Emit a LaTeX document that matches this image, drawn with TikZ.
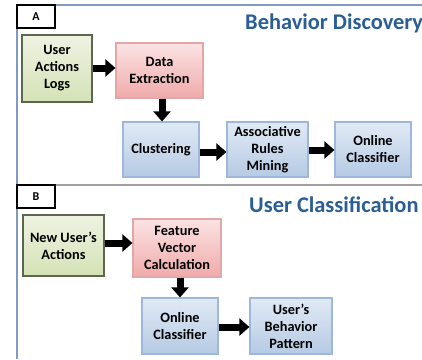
\documentclass[tikz,border=0pt]{standalone}
\usepackage{fontspec}
\setmainfont{Carlito}
\usetikzlibrary{arrows.meta,shadows}
\definecolor{grtop}{HTML}{EEF3E2}
\definecolor{grbot}{HTML}{D4E2B6}
\definecolor{grln}{HTML}{5F6650}
\definecolor{rdtop}{HTML}{FBE3E3}
\definecolor{rdbot}{HTML}{F0AAAA}
\definecolor{rdln}{HTML}{E0A8A8}
\definecolor{bltop}{HTML}{E1EAF5}
\definecolor{blbot}{HTML}{B5CAE4}
\definecolor{blln}{HTML}{9DB8DA}
\definecolor{ttl}{HTML}{2A5E94}
\definecolor{frameA}{HTML}{7F9BBF}
\definecolor{frameB}{HTML}{A0A0A0}
\tikzset{
  procbox/.style={rectangle, align=center, line width=1.2pt,
    font=\fontsize{14.3}{17}\selectfont\bfseries, inner sep=0pt,
    drop shadow={shadow xshift=1.2pt, shadow yshift=1.2pt, opacity=0.25, fill=black}},
  greenbox/.style={procbox, draw=grln, top color=grtop, bottom color=grbot},
  redbox/.style={procbox, draw=rdln, top color=rdtop, bottom color=rdbot},
  bluebox/.style={procbox, draw=blln, top color=bltop, bottom color=blbot},
  fatarrow/.style={line width=7pt, draw=black, -{Triangle[length=10pt,width=17pt]}},
  tagbox/.style={draw=black, line width=1.3pt, fill=white, inner sep=0pt,
    font=\fontsize{12}{14}\selectfont\bfseries},
  titletext/.style={text=ttl, inner sep=0pt, anchor=west}
}
\begin{document}
\begin{tikzpicture}[x=1pt,y=-1pt]
\useasboundingbox (0,0) rectangle (422,359);
\fill[white] (0,0) rectangle (422,359);
% frames
\draw[frameA, line width=1.2pt] (422,5) -- (17,5) -- (17,359);
\draw[frameB, line width=1.2pt] (17,185) -- (422,185);
% tags
\node[tagbox, minimum width=38pt, minimum height=23pt] (tagA) at (36,16.5) {A};
\node[tagbox, minimum width=38pt, minimum height=23pt] (tagB) at (36,196.5) {B};
% titles
\node[titletext, font=\fontsize{22.4}{26}\selectfont\bfseries] (tA) at (245,23) {Behavior Discovery};
\node[titletext, font=\fontsize{22.4}{26}\selectfont\bfseries] (tB) at (249,205) {User Classification};
% panel A
\node[greenbox, minimum width=70pt, minimum height=67pt] (ual) at (57,68.5) {User\\Actions\\Logs};
\node[redbox, minimum width=87pt, minimum height=55pt] (de) at (159.5,70.5) {Data\\Extraction};
\node[bluebox, minimum width=76pt, minimum height=55pt] (cl) at (161,149.5) {Clustering};
\node[bluebox, minimum width=81pt, minimum height=55pt] (arm) at (267.5,149.5) {Associative\\Rules\\Mining};
\node[bluebox, minimum width=76pt, minimum height=55pt] (oc) at (373,149.5) {Online\\Classifier};
\draw[fatarrow] (ual.east |- 0,68) -- (de.west |- 0,68);
\draw[fatarrow] (de.south -| 162,0) -- (cl.north -| 162,0);
\draw[fatarrow] (cl.east |- 0,152) -- (arm.west |- 0,152);
\draw[fatarrow] (arm.east |- 0,150) -- (oc.west |- 0,150);
% panel B
\node[greenbox, minimum width=81pt, minimum height=61pt] (nua) at (63.5,245.5) {New User’s\\Actions};
\node[redbox, minimum width=88pt, minimum height=58pt] (fvc) at (177,248) {Feature\\Vector\\Calculation};
\node[bluebox, minimum width=76pt, minimum height=56pt] (oc2) at (180,326) {Online\\Classifier};
\node[bluebox, minimum width=82pt, minimum height=56pt] (ubp) at (291,326) {User’s\\Behavior\\Pattern};
\draw[fatarrow] (nua.east |- 0,243) -- (fvc.west |- 0,243);
\draw[fatarrow] (fvc.south -| 180,0) -- (oc2.north -| 180,0);
\draw[fatarrow] (oc2.east |- 0,327) -- (ubp.west |- 0,327);
\end{tikzpicture}
\end{document}
